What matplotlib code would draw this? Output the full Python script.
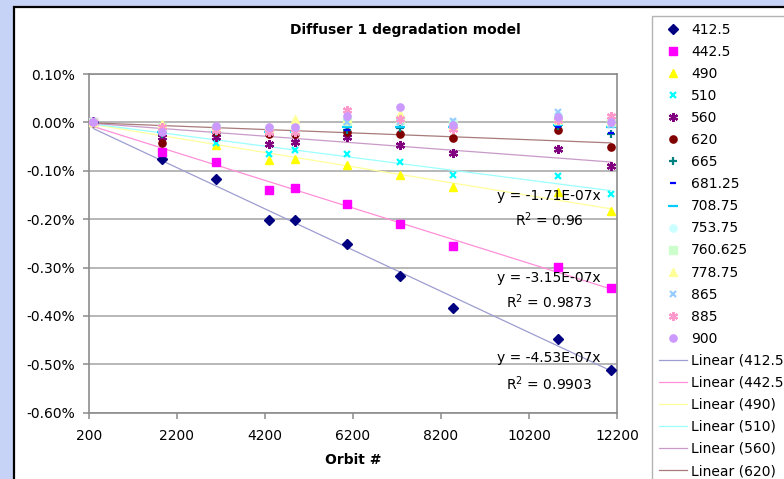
import numpy as np
import matplotlib
matplotlib.use('Agg')
import matplotlib.pyplot as plt
import matplotlib.ticker as tkr
from matplotlib.patches import Rectangle

# orbit numbers of the diffuser measurements
orbits = [300, 1860, 3090, 4290, 4880, 6060, 7270, 8470, 10860, 12060]

# relative change in % per band
b412 = [0, -0.075, -0.117, -0.201, -0.201, -0.251, -0.317, -0.383, -0.447, -0.511]
b442 = [0, -0.061, -0.081, -0.140, -0.135, -0.168, -0.209, -0.255, -0.299, -0.343]
b490 = [0, -0.010, -0.047, -0.078, -0.075, -0.088, -0.109, -0.134, -0.144, -0.184]
b510 = [0, -0.020, -0.043, -0.065, -0.058, -0.065, -0.082, -0.108, -0.111, -0.147]
b560 = [0, -0.030, -0.030, -0.044, -0.041, -0.030, -0.046, -0.063, -0.054, -0.090]
b620 = [0, -0.042, -0.020, -0.023, -0.025, -0.020, -0.023, -0.032, -0.015, -0.050]
b665 = [0, -0.025, -0.020, -0.020, -0.020, -0.015, -0.012, -0.010, -0.008, -0.025]
b681 = [0, -0.025, -0.020, -0.020, -0.020, -0.015, -0.010, -0.010, -0.010, -0.022]
b708 = [0, -0.020, -0.020, -0.020, -0.020, -0.010, -0.010, -0.010, -0.005, -0.010]
b753 = [0, -0.010, -0.010, -0.012, -0.010, 0.005, 0.008, 0.000, 0.015, 0.000]
b760 = [0, -0.010, -0.012, -0.015, -0.015, 0.002, 0.005, -0.005, 0.005, 0.000]
b778 = [0, -0.003, -0.010, -0.012, 0.008, 0.010, 0.018, -0.005, 0.008, 0.005]
b865 = [0, -0.020, -0.015, -0.015, -0.012, 0.000, 0.000, 0.002, 0.021, -0.005]
b885 = [0, -0.010, -0.015, -0.020, -0.020, 0.025, 0.006, -0.013, 0.005, 0.013]
b900 = [0, -0.020, -0.008, -0.010, -0.010, 0.013, 0.032, -0.005, 0.011, 0.000]

band_names = ['412.5', '442.5', '490', '510', '560', '620', '665', '681.25',
              '708.75', '753.75', '760.625', '778.75', '865', '885', '900']
band_values = [b412, b442, b490, b510, b560, b620, b665, b681, b708,
               b753, b760, b778, b865, b885, b900]

# excel-ish marker styles: (marker, size, colour)
star = (6, 2, 0)
styles = [('D', 4.8, '#000080'), ('s', 5.2, '#ff00ff'), ('^', 5.8, '#ffff00'),
          ('x', 5, '#00ffff'), (star, 6.5, '#800080'), ('o', 5.2, '#800000'),
          ('+', 6, '#008080'), ('_', 4, '#0000ff'), ('_', 7, '#00ccff'),
          ('o', 5.2, '#ccffff'), ('s', 5.2, '#ccffcc'), ('^', 5.8, '#ffff99'),
          ('x', 5, '#99ccff'), (star, 6.5, '#ff99cc'), ('o', 5.2, '#cc99ff')]

trend_bands = ['412.5', '442.5', '490', '510', '560', '620']
trend_colors = ['#9d9dd0', '#ff8fd8', '#ffff9c', '#9cffff', '#c89ac8', '#a87a7a']

W, H = 784, 479
fig = plt.figure(figsize=(W / 100, H / 100), dpi=100)
fig.patch.set_facecolor('#c6d3f7')
fig.patches.append(Rectangle((14 / W, -0.05), 1.1, 1 - 7 / H + 0.05,
                             transform=fig.transFigure, facecolor='white',
                             edgecolor='black', linewidth=1.6, zorder=-10))

ax = fig.add_axes([89 / W, 1 - 412.7 / H, 528 / W, (412.7 - 74) / H])
ax.set_facecolor('white')

handles, labels = [], []
for name, vals, (mk, ms, col) in zip(band_names, band_values, styles):
    if mk in ('x', '+', '_') or mk == star:
        h, = ax.plot(orbits, vals, linestyle='none', marker=mk, markersize=ms,
                     color=col, markeredgewidth=1.6, zorder=3)
    else:
        h, = ax.plot(orbits, vals, linestyle='none', marker=mk, markersize=ms,
                     color=col, markeredgecolor=col, zorder=3)
    handles.append(h)
    labels.append(name)

# linear trendlines through the origin, like excel
x = np.array(orbits, dtype=float)
for name, col in zip(trend_bands, trend_colors):
    y = np.array(band_values[band_names.index(name)], dtype=float)
    m = np.sum(x * y) / np.sum(x * x)
    h, = ax.plot([x.min(), x.max()], [m * x.min(), m * x.max()], color=col,
                 linewidth=0.9, zorder=2)
    handles.append(h)
    labels.append('Linear (%s)' % name)

ax.set_xlim(200, 12200)
ax.set_ylim(-0.6, 0.1)
ax.set_xticks(np.arange(200, 12201, 2000))
ax.set_yticks(np.arange(-0.6, 0.101, 0.1))
ax.yaxis.set_major_formatter(tkr.FuncFormatter(lambda v, p: '%.2f%%' % (round(v, 4) + 0)))
ax.grid(axis='y', color='#a3a3a3', linewidth=1.1)
ax.set_axisbelow(True)
for s in ax.spines.values():
    s.set_color('#8c8c8c')
    s.set_linewidth(1.2)
ax.tick_params(colors='#8c8c8c', labelcolor='black', labelsize=10, length=4, width=1.1)
ax.tick_params(axis='x', pad=8)
ax.tick_params(axis='y', pad=6)
ax.set_xlabel('Orbit #', fontsize=10, fontweight='bold', labelpad=7)

fig.text(405 / W, 1 - 30 / H, 'Diffuser 1 degradation model', ha='center', va='center',
         fontsize=10, fontweight='bold')

eq_labels = [('y = -1.71E-07x', 196), ('R$^2$ = 0.96', 220),
             ('y = -3.15E-07x', 278), ('R$^2$ = 0.9873', 302),
             ('y = -4.53E-07x', 358), ('R$^2$ = 0.9903', 384)]
for txt, py in eq_labels:
    fig.text(549 / W, 1 - py / H, txt, ha='center', va='center', fontsize=10)

leg = fig.legend(handles, labels, loc='upper left', bbox_to_anchor=(652 / W, 1 - 16 / H),
                 borderaxespad=0, fontsize=10, frameon=True, fancybox=False,
                 numpoints=1, handlelength=2.0, handletextpad=0.3,
                 labelspacing=0.58, borderpad=0.5)
leg.get_frame().set_edgecolor('#a0a0a0')
leg.get_frame().set_linewidth(1.0)

fig.savefig('out.png', dpi=100)
